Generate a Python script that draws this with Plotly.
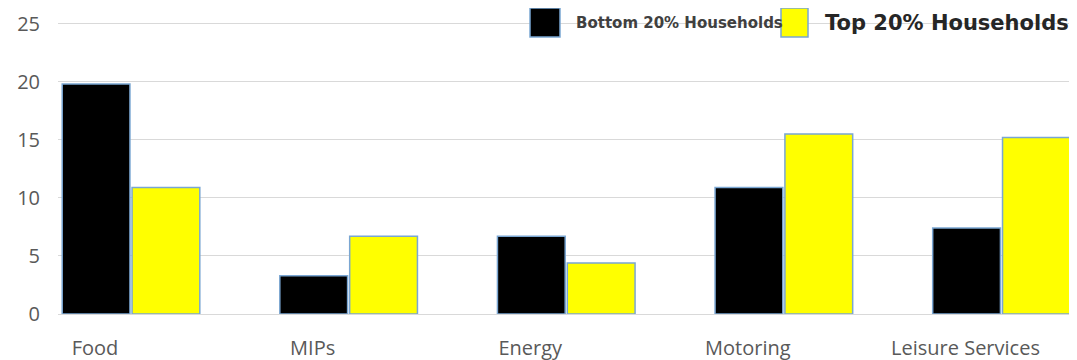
import plotly.graph_objects as go

categories = ["Food", "MIPs", "Energy", "Motoring", "Leisure Services"]
bottom_20 = [19.8, 3.3, 6.7, 10.9, 7.4]
top_20 = [10.9, 6.7, 4.4, 15.5, 15.2]
y_ticks = [0, 5, 10, 15, 20, 25]
series_names = ["Bottom 20% Households", "Top 20% Households"]

OFF = 8  # page body margin
W, H = 1077, 360
L, R, T, B = 50, 8, 11, 54
pw, ph = W - L - R, H - T - B

def px(x):
    return (x - OFF - L) / pw

def py(y):
    return (H - B - (y - OFF)) / ph

outline = dict(color="#7aa6d2", width=1.5)
fig = go.Figure()
fig.add_trace(go.Bar(x=categories, y=bottom_20, name=series_names[0],
                     marker=dict(color="#000000", line=outline)))
fig.add_trace(go.Bar(x=categories, y=top_20, name=series_names[1],
                     marker=dict(color="#ffff00", line=outline)))

tickfont = dict(family="Open Sans, sans-serif", size=20, color="#595959")
fig.update_layout(
    width=W, height=H,
    margin=dict(l=L, r=R, t=T, b=B, autoexpand=False),
    paper_bgcolor="white", plot_bgcolor="white",
    barmode="group", bargap=0.358, bargroupgap=0.03,
    showlegend=False,
    xaxis=dict(range=[-0.3355, 4.347], showgrid=False, zeroline=False,
               showline=False, ticks="", tickfont=tickfont, automargin=False,
               ticklabelshift=-36, ticklabelstandoff=20),
    yaxis=dict(range=[0, 25.4], tickvals=y_ticks, showgrid=True,
               gridcolor="#d9d9d9", gridwidth=1, zeroline=True,
               zerolinecolor="#d9d9d9", zerolinewidth=1, showline=False,
               ticks="", tickfont=tickfont, ticklabelstandoff=17,
               automargin=False),
)

# manual legend
shapes = [
    dict(type="rect", xref="paper", yref="paper",
         x0=px(530), x1=px(560), y0=py(37), y1=py(8),
         fillcolor="#000000", line=dict(color="#7aa6d2", width=1.5)),
    dict(type="rect", xref="paper", yref="paper",
         x0=px(781), x1=px(808), y0=py(37), y1=py(8),
         fillcolor="#ffff00", line=dict(color="#7aa6d2", width=1.5)),
]
fig.update_layout(shapes=shapes)
fig.add_annotation(xref="paper", yref="paper", x=px(574), y=py(23),
                   xanchor="left", yanchor="middle", showarrow=False,
                   text="<b>" + series_names[0] + "</b>",
                   font=dict(family="DejaVu Sans", size=15, color="#404040"))
fig.add_annotation(xref="paper", yref="paper", x=px(823), y=py(23),
                   xanchor="left", yanchor="middle", showarrow=False,
                   text="<b>" + series_names[1] + "</b>",
                   font=dict(family="DejaVu Sans", size=21, color="#262626"))

fig.write_html("out.html")
